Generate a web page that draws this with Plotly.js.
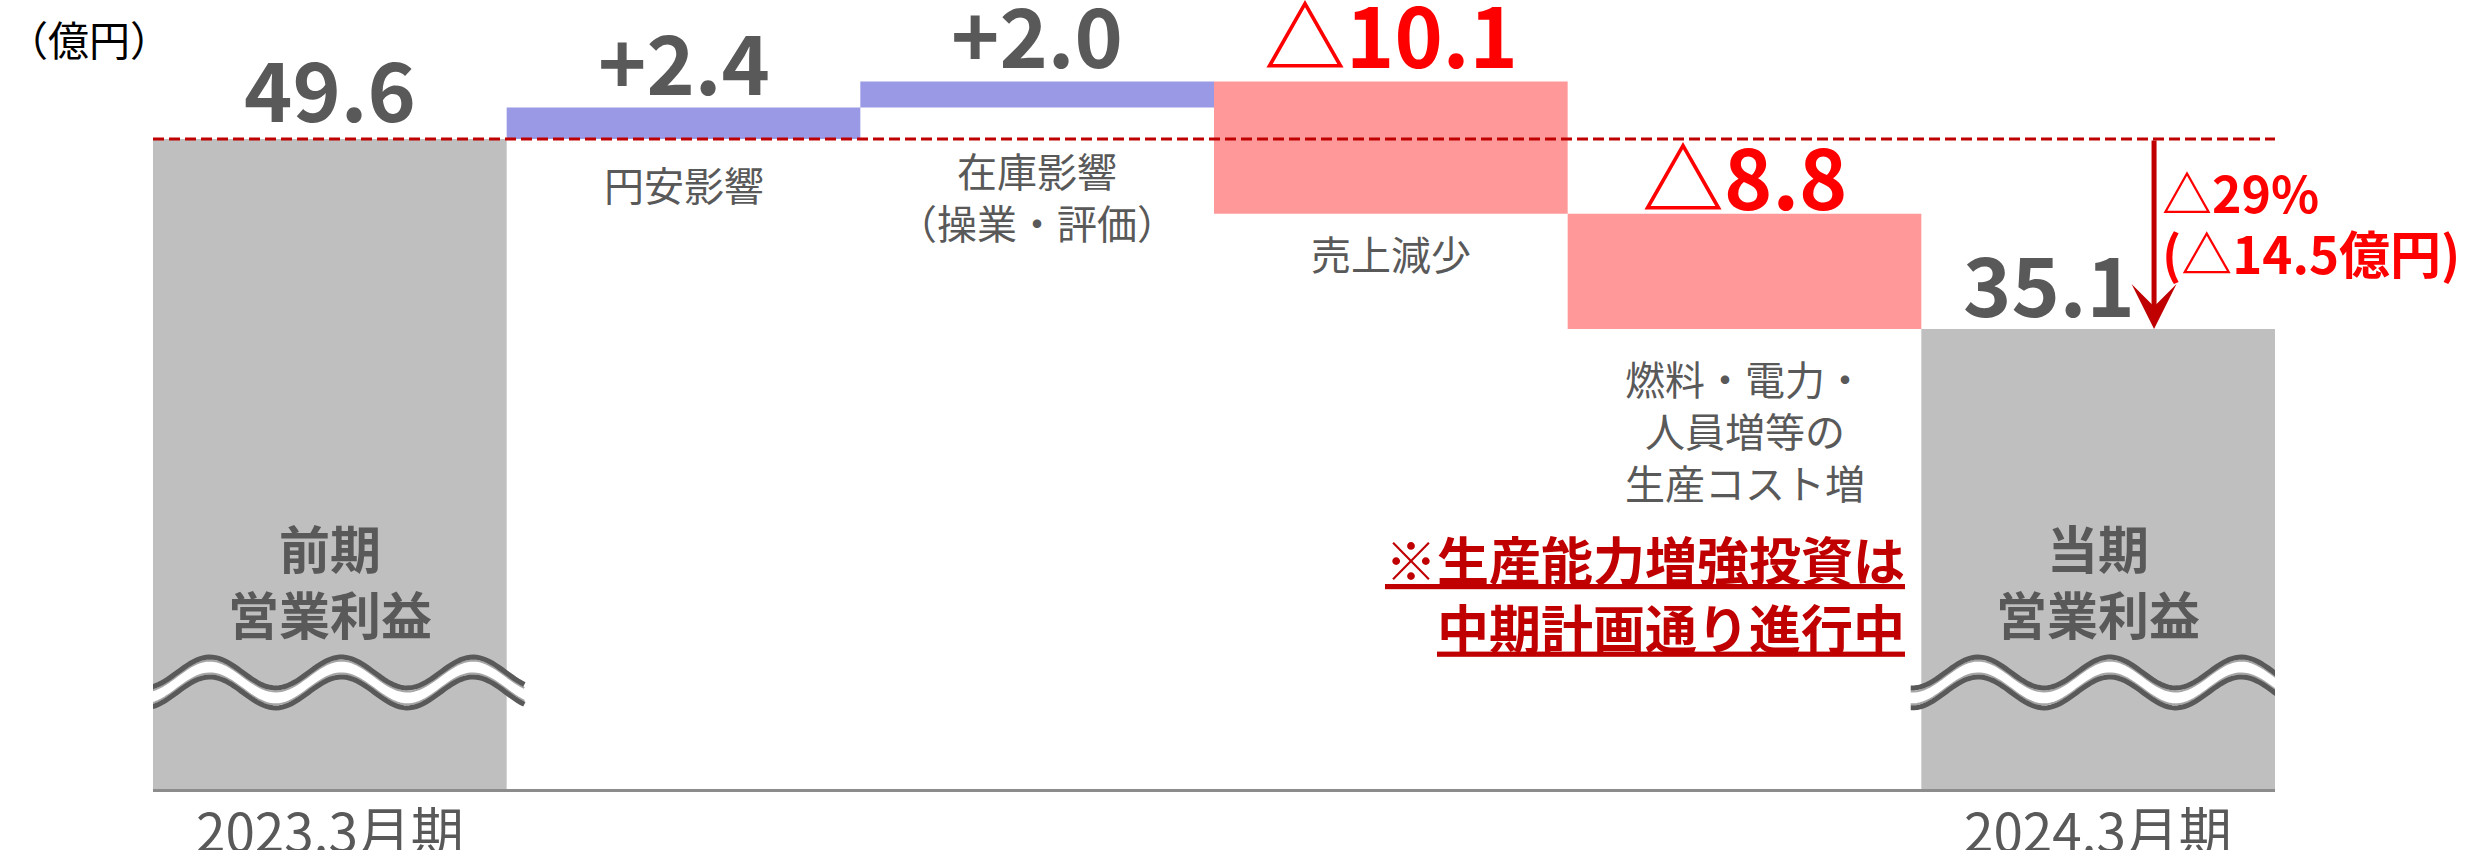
<!DOCTYPE html>
<html><head><meta charset="utf-8">
<script src="https://cdn.plot.ly/plotly-3.0.1.min.js"></script>
<style>html,body{margin:0;padding:0;background:#fff}#chart{width:2474px;height:850px}</style>
</head><body><div id="chart"></div>
<script>
// ---- data ----
const categories = ['2023.3月期', '円安影響', '在庫影響（操業・評価）', '売上減少', '燃料・電力・人員増等の生産コスト増', '2024.3月期'];
const measures = ['absolute', 'relative', 'relative', 'relative', 'relative', 'total'];
const values = [49.6, 2.4, 2.0, -10.1, -8.8, 35.1];
const valueLabels = ['49.6', '+2.4', '+2.0', '△10.1', '△8.8', '35.1'];
const descLabels = ['', '円安影響', '在庫影響<br>（操業・評価）', '売上減少', '燃料・電力・<br>人員増等の<br>生産コスト増', ''];
const barTexts = ['前期<br>営業利益', '', '', '', '', '当期<br>営業利益'];
const periodLabels = ['2023.3月期', '', '', '', '', '2024.3月期'];
const unitLabel = '（億円）';
const changePct = '△29%';
const changeAmt = '(△14.5億円)';
const noteText = '<u>※生産能力増強投資は</u><br><u>中期計画通り進行中</u>';

// ---- styling ----
const FONT = '"Noto Sans CJK JP", "Noto Sans", sans-serif';
const GRAY_TXT = '#595959';
const RED = '#ff0000';
const DARKRED = '#c00000';
const VALUE_SIZE = 82;
const valueGap = [17, 13, 14, 14, 4, 12];
const valueXShift = [0, 0, 0, 0, 0, -49];
const descOffset = [0, 45, 88, 39, 101, 0];
const valueColors = ['#595959', '#595959', '#595959', RED, RED, '#595959'];

// cumulative positions
const xs = categories.map((_, i) => i);
const starts = [], ends = [];
let run = 0;
values.forEach((v, i) => {
  if (measures[i] === 'absolute') { starts.push(0); run = v; ends.push(run); }
  else if (measures[i] === 'total') { starts.push(0); ends.push(run); }
  else { starts.push(run); run += v; ends.push(run); }
});
const tops = xs.map(i => Math.max(starts[i], ends[i]));
const bottoms = xs.map(i => measures[i] === 'relative' ? Math.min(starts[i], ends[i]) : 0);

const trace = {
  type: 'waterfall', x: xs, y: values, measure: measures,
  text: categories, textinfo: 'none', hoverinfo: 'skip',
  connector: {visible: false},
  increasing: {marker: {color: '#9999e6'}},
  decreasing: {marker: {color: '#ff9999'}},
  totals: {marker: {color: '#bfbfbf'}},
  cliponaxis: false
};

const annotations = [];
xs.forEach(i => {
  annotations.push({
    x: i, y: tops[i], xref: 'x', yref: 'y', text: valueLabels[i], showarrow: false,
    xanchor: 'center', yanchor: 'bottom', yshift: valueGap[i] - 0.32 * VALUE_SIZE, xshift: valueXShift[i],
    font: {family: FONT, size: VALUE_SIZE, color: valueColors[i], weight: 700}
  });
  if (descLabels[i]) annotations.push({
    x: i, y: bottoms[i], xref: 'x', yref: 'y', text: descLabels[i], showarrow: false,
    xanchor: 'center', yanchor: 'middle', yshift: -descOffset[i], align: 'center',
    font: {family: FONT, size: 40, color: GRAY_TXT}
  });
  if (barTexts[i]) annotations.push({
    x: i, y: 15.95, xref: 'x', yref: 'y', text: barTexts[i], showarrow: false,
    xanchor: 'center', yanchor: 'middle', align: 'center',
    font: {family: FONT, size: 51, color: GRAY_TXT, weight: 700}
  });
  if (periodLabels[i]) annotations.push({
    x: i, y: 0, xref: 'x', yref: 'y', text: periodLabels[i], showarrow: false,
    xanchor: 'center', yanchor: 'middle', yshift: -40,
    font: {family: FONT, size: 53, color: GRAY_TXT}
  });
});
const startVal = ends[0], endVal = ends[ends.length - 1];
const arrowX = 5.158;
annotations.push({
  x: arrowX, y: endVal, ax: arrowX, ay: startVal, xref: 'x', yref: 'y', axref: 'x', ayref: 'y',
  showarrow: true, arrowhead: 3, arrowsize: 1.5, arrowwidth: 5, arrowcolor: DARKRED, standoff: 0, text: ''
});
annotations.push({
  x: arrowX, y: 45.6, xref: 'x', yref: 'y', text: changePct, showarrow: false,
  xanchor: 'left', yanchor: 'middle', xshift: 6,
  font: {family: FONT, size: 50, color: RED, weight: 700}
});
annotations.push({
  x: arrowX, y: 41.0, xref: 'x', yref: 'y', text: changeAmt, showarrow: false,
  xanchor: 'left', yanchor: 'middle', xshift: 6,
  font: {family: FONT, size: 51, color: RED, weight: 700}
});
annotations.push({
  x: 4.5, y: 15.0, xref: 'x', yref: 'y', text: noteText, showarrow: false,
  xanchor: 'right', yanchor: 'middle', xshift: -14, align: 'right',
  font: {family: FONT, size: 52, color: DARKRED, weight: 700}
});
annotations.push({
  x: 0, y: 1, xref: 'paper', yref: 'paper', text: unitLabel, showarrow: false,
  xanchor: 'left', yanchor: 'middle', xshift: -148, yshift: -9,
  font: {family: FONT, size: 41, color: '#000000'}
});

// wavy break marks on the two total bars
const shapes = [];
function wave(cx, cy) {
  const A = 1.18, P = 0.372, xp = cx - 0.339;
  const pts = [];
  for (let k = 0; k <= 120; k++) {
    const x = cx - 0.53 + (1.08 * k / 120);
    pts.push([x, cy + A * Math.cos(2 * Math.PI * (x - xp) / P)]);
  }
  return pts;
}
function toPath(pts) { return pts.map((p, k) => (k ? 'L' : 'M') + p[0].toFixed(4) + ',' + p[1].toFixed(4)).join(' '); }
xs.filter(i => measures[i] !== 'relative').forEach(i => {
  const top = wave(i, 8.89), bot = wave(i, 7.37);
  const fill = toPath(top) + ' ' + bot.slice().reverse().map(p => 'L' + p[0].toFixed(4) + ',' + p[1].toFixed(4)).join(' ') + ' Z';
  shapes.push({type: 'path', xref: 'x', yref: 'y', path: fill, fillcolor: '#ffffff', line: {width: 0}, layer: 'above'});
  shapes.push({type: 'path', xref: 'x', yref: 'y', path: toPath(wave(i, 8.62)), line: {color: '#a6a6a6', width: 2}, layer: 'above'});
  shapes.push({type: 'path', xref: 'x', yref: 'y', path: toPath(wave(i, 7.64)), line: {color: '#a6a6a6', width: 2}, layer: 'above'});
  shapes.push({type: 'path', xref: 'x', yref: 'y', path: toPath(top), line: {color: '#595959', width: 5}, layer: 'above'});
  shapes.push({type: 'path', xref: 'x', yref: 'y', path: toPath(bot), line: {color: '#595959', width: 5}, layer: 'above'});
});
shapes.push({type: 'line', xref: 'paper', yref: 'y', x0: 0, x1: 1, y0: startVal, y1: startVal,
  line: {color: DARKRED, width: 3, dash: '11px,5px'}, layer: 'above'});

const layout = {
  width: 2474, height: 850,
  margin: {l: 153, r: 199, t: 29, b: 61},
  paper_bgcolor: '#ffffff', plot_bgcolor: '#ffffff',
  showlegend: false, waterfallgap: 0,
  xaxis: {range: [-0.5, 5.5], showgrid: false, zeroline: false, showticklabels: false, ticks: '',
    showline: true, linecolor: '#8c8c8c', linewidth: 3},
  yaxis: {range: [0, 58], showgrid: false, zeroline: false, showticklabels: false, ticks: '', showline: false},
  annotations: annotations, shapes: shapes
};
Plotly.newPlot('chart', [trace], layout, {staticPlot: true});
</script></body></html>
